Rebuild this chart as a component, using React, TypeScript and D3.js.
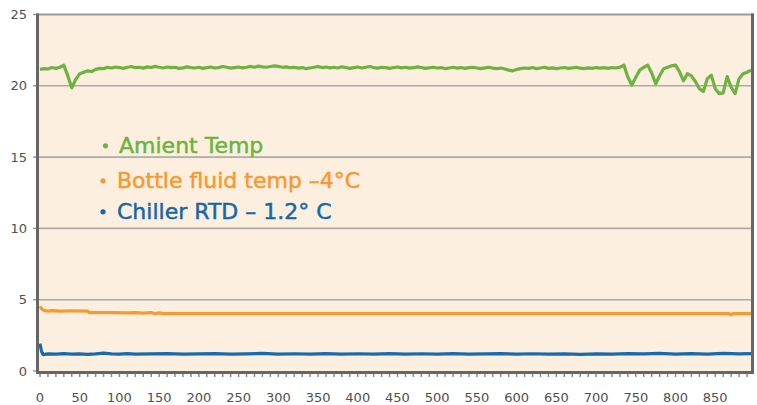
import React from 'react';
import * as d3 from 'd3';

// sampling interval of the ambient logger trace (x units)
const greenStep = 5;
// Amient Temp, one reading every 5 units from 0
const greenValues = [
  21.15, 21.2, 21.18, 21.28, 21.22, 21.3, 21.45, 20.7, 19.85, 20.45,
  20.85, 20.95, 21.05, 21.0, 21.15, 21.22, 21.2, 21.3, 21.25, 21.32,
  21.28, 21.22, 21.3, 21.35, 21.27, 21.3, 21.24, 21.33, 21.28, 21.36,
  21.3, 21.25, 21.32, 21.27, 21.3, 21.22, 21.26, 21.33, 21.28, 21.25,
  21.3, 21.22, 21.27, 21.32, 21.25, 21.28, 21.35, 21.3, 21.24, 21.28,
  21.32, 21.26, 21.3, 21.36, 21.3, 21.38, 21.33, 21.3, 21.35, 21.4,
  21.36, 21.3, 21.33, 21.27, 21.3, 21.24, 21.28, 21.2, 21.25, 21.3,
  21.35, 21.28, 21.32, 21.26, 21.3, 21.25, 21.33, 21.28, 21.22, 21.27,
  21.32, 21.25, 21.3, 21.35, 21.28, 21.24, 21.3, 21.27, 21.22, 21.28,
  21.32, 21.26, 21.3, 21.24, 21.27, 21.33, 21.28, 21.22, 21.26, 21.3,
  21.25, 21.28, 21.2, 21.25, 21.3, 21.24, 21.28, 21.22, 21.27, 21.3,
  21.25, 21.2, 21.26, 21.3, 21.24, 21.2, 21.25, 21.18, 21.1, 21.05,
  21.15, 21.2, 21.25, 21.22, 21.28, 21.2, 21.25, 21.3, 21.22, 21.26,
  21.2, 21.25, 21.28, 21.22, 21.26, 21.3, 21.24, 21.2, 21.26, 21.22,
  21.28, 21.24, 21.27, 21.22, 21.28, 21.25, 21.3, 21.45, 20.6, 20.05,
  20.6, 21.1, 21.3, 21.45, 20.9, 20.15, 20.7, 21.2, 21.3, 21.4,
  21.45, 21.0, 20.35, 20.85, 20.7, 20.3, 19.8, 19.6, 20.5, 20.75,
  19.8, 19.45, 19.5, 20.65, 19.9, 19.45, 20.5, 20.85, 20.95, 21.1,
];

// Bottle fluid temp: [x, value]
const orangePoints: [number, number][] = [
  [0, 4.55], [2, 4.35], [5, 4.25], [10, 4.2], [15, 4.23], [25, 4.2], [40, 4.21],
  [60, 4.2], [62, 4.1], [90, 4.1], [110, 4.08], [120, 4.1], [130, 4.06], [140, 4.1],
  [145, 4.02], [150, 4.08], [155, 4.02], [200, 4.02], [300, 4.02], [400, 4.02],
  [500, 4.02], [600, 4.02], [700, 4.02], [868, 4.02], [870, 3.93], [872, 4.02], [895, 4.02],
];

// Chiller RTD: [x, value]
const bluePoints: [number, number][] = [
  [0, 1.92], [2, 1.35], [4, 1.15], [10, 1.2], [20, 1.18], [30, 1.22], [40, 1.18],
  [50, 1.2], [60, 1.17], [70, 1.2], [80, 1.25], [90, 1.2], [100, 1.18], [110, 1.22],
  [120, 1.18], [140, 1.2], [160, 1.22], [180, 1.18], [200, 1.2], [220, 1.22],
  [240, 1.18], [260, 1.2], [280, 1.24], [300, 1.19], [320, 1.21], [340, 1.18],
  [360, 1.22], [380, 1.19], [400, 1.21], [420, 1.18], [440, 1.22], [460, 1.19],
  [480, 1.21], [500, 1.18], [520, 1.22], [540, 1.19], [560, 1.2], [580, 1.22],
  [600, 1.19], [620, 1.21], [640, 1.18], [660, 1.2], [680, 1.17], [700, 1.2],
  [720, 1.18], [740, 1.22], [760, 1.2], [780, 1.23], [800, 1.19], [820, 1.22],
  [840, 1.19], [860, 1.23], [880, 1.2], [895, 1.22],
];

const yTicks = [0, 5, 10, 15, 20, 25];
const xTicks = [0, 50, 100, 150, 200, 250, 300, 350, 400, 450, 500, 550, 600, 650, 700, 750, 800, 850];
const xMax = 895;

const legendItems = [
  { label: 'Amient Temp', color: '#6cb33f' },
  { label: 'Bottle fluid temp –4°C', color: '#f7992f' },
  { label: 'Chiller RTD – 1.2° C', color: '#1567aa' },
];

export default function App() {
  const width = 757;
  const height = 405;
  const left = 39;
  const right = 751;
  const top = 14.5;
  const bottom = 371;

  const x = d3.scaleLinear().domain([0, xMax]).range([40, right]);
  const y = d3.scaleLinear().domain([0, 25]).range([bottom, top]);

  const line = d3.line<[number, number]>()
    .x(d => x(d[0]))
    .y(d => y(d[1]));

  const greenPoints: [number, number][] = greenValues.map((v, i) => [i * greenStep, v]);
  const minorTicks = d3.range(0, xMax, 10);

  const font = '"DejaVu Sans", sans-serif';

  return (
    <svg width={width} height={height} style={{ position: 'absolute', left: 0, top: 0, background: '#fff' }}>
      {/* plot background */}
      <rect x={left} y={top} width={right - left} height={bottom - top} fill="#fdefe0" />

      {/* grid lines */}
      {yTicks.filter(t => t > 0 && t < 25).map(t => (
        <line key={t} x1={left} x2={right} y1={y(t)} y2={y(t)} stroke="#ababab" strokeWidth={1.6} />
      ))}
      <line x1={36} x2={754} y1={top} y2={top} stroke="#9c9c9c" strokeWidth={2} />

      {/* y ticks + labels */}
      {yTicks.map(t => (
        <g key={t}>
          <line x1={33} x2={37} y1={y(t)} y2={y(t)} stroke="#999" strokeWidth={1.5} />
          <text x={27} y={y(t)} dy="0.36em" textAnchor="end" fontSize={13} fill="#505050" fontFamily={font}>{t}</text>
        </g>
      ))}

      {/* x minor ticks + labels */}
      {minorTicks.map(t => (
        <line key={t} x1={x(t)} x2={x(t)} y1={bottom} y2={377} stroke="#8a8a8a" strokeWidth={1.5} />
      ))}
      {xTicks.map(t => (
        <text key={t} x={x(t)} y={402} textAnchor="middle" fontSize={13} fill="#505050" fontFamily={font}>{t}</text>
      ))}

      {/* series */}
      <path d={line(orangePoints) || ''} fill="none" stroke="#f79a2f" strokeWidth={3.2} strokeLinejoin="round" />
      <path d={line(bluePoints) || ''} fill="none" stroke="#1a6aab" strokeWidth={3.2} strokeLinejoin="round" />
      <path d={line(greenPoints) || ''} fill="none" stroke="#6db33f" strokeWidth={3.2} strokeLinejoin="round" />

      {/* axis frame */}
      <line x1={37.5} x2={37.5} y1={top - 1} y2={bottom + 3} stroke="#666" strokeWidth={3} />
      <line x1={36} x2={754} y1={bottom + 1.5} y2={bottom + 1.5} stroke="#666" strokeWidth={3} />
      <line x1={752.5} x2={752.5} y1={top - 1} y2={bottom + 3} stroke="#666" strokeWidth={3} />

      {/* legend */}
      {legendItems.map((d, i) => {
        const base = [153.3, 188.3, 219.3][i];
        const tx = i === 0 ? 119 : 117;
        const bx = i === 0 ? 105.5 : 103;
        return (
          <g key={d.label}>
            <circle cx={bx} cy={base - 7.5} r={2.6} fill={d.color} />
            <text x={tx} y={base} fontSize={22} fill={d.color} stroke={d.color} strokeWidth={0.5} fontFamily={font}>{d.label}</text>
          </g>
        );
      })}
    </svg>
  );
}
